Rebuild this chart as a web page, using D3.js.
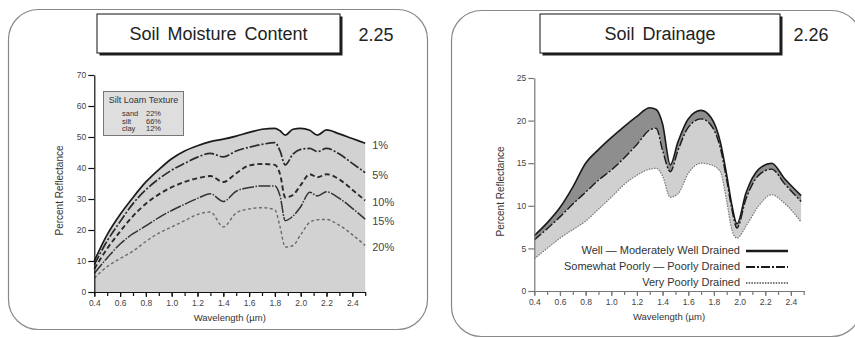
<!DOCTYPE html>
<html>
<head>
<meta charset="utf-8">
<script src="https://cdn.jsdelivr.net/npm/d3@7"></script>
<style>
  body { margin: 0; background: #fff; }
  svg { display: block; font-family: "Liberation Sans", Arial, Helvetica, sans-serif; }
  .tick text { fill: #444; font-size: 8.5px; }
</style>
</head>
<body>
<div id="container"></div>
<script>
// ---- left chart: soil moisture content ----
const moistWave = [0.4, 0.5, 0.6, 0.7, 0.8, 0.9, 1.0, 1.1, 1.2, 1.3, 1.4, 1.5, 1.6, 1.7, 1.8, 1.84, 1.88, 1.94, 2.0, 2.07, 2.13, 2.2, 2.3, 2.4, 2.5];
const moist1  = [10, 18.5, 25, 30.5, 35.5, 39.5, 43, 45.5, 47.2, 48.5, 49.3, 50.3, 51.5, 52.5, 52.8, 52, 50.6, 52.5, 52.8, 52.2, 50.6, 52.3, 51, 49.5, 48];
const moist5  = [8.8, 16.5, 22.7, 28.5, 33, 36.5, 39.3, 41.5, 43.5, 44.7, 43.6, 45.5, 46.7, 47.6, 48.2, 45.5, 41, 44.5, 46, 46.3, 45.3, 46.3, 44.5, 41.5, 38.5];
const moist10 = [7.5, 14, 19.5, 24.5, 28.5, 31.5, 33.8, 35.5, 36.7, 37.4, 35.5, 38.3, 40.8, 41.3, 41, 38, 30.5, 31.3, 34.5, 38, 37, 38, 36.3, 33, 29.5];
const moist15 = [6, 11, 15.5, 18.8, 21.3, 24, 26.3, 28.3, 30.2, 31.7, 29.2, 32.5, 33.7, 34.2, 34.2, 31, 23, 24.5, 27.5, 32.2, 31, 32.3, 30.2, 27, 23.5];
const moist20 = [4.5, 8.2, 10.8, 13.2, 16.3, 19, 21, 23, 25, 25.8, 21, 25.5, 26.8, 27.2, 26.5, 21, 14.5, 15, 18.5, 22.5, 23.3, 23.4, 21.5, 18.5, 15];
const moistLabels = ["1%", "5%", "10%", "15%", "20%"];
const moistTicksY = [0, 10, 20, 30, 40, 50, 60, 70];
const texture = [["sand", "22%"], ["silt", "66%"], ["clay", "12%"]];

// ---- right chart: soil drainage ----
const drainWave = [0.4, 0.5, 0.6, 0.7, 0.8, 0.9, 1.0, 1.1, 1.2, 1.3, 1.35, 1.4, 1.46, 1.52, 1.6, 1.7, 1.78, 1.85, 1.9, 1.94, 1.98, 2.05, 2.15, 2.25, 2.35, 2.48];
const drainWell = [6.5, 8.0, 9.8, 12.2, 15.0, 16.6, 18.0, 19.3, 20.5, 21.5, 21.3, 19.6, 14.8, 17.5, 20.2, 21.2, 20.3, 17.5, 13.6, 10.1, 7.9, 11.5, 14.3, 15.0, 13.2, 11.2];
const drainPoor = [6.0, 7.3, 8.7, 10.2, 11.6, 13.0, 14.2, 15.6, 17.2, 18.9, 19.1, 16.5, 14.0, 16.5, 19.2, 20.2, 19.4, 16.8, 13.0, 9.6, 7.4, 10.8, 13.6, 14.3, 12.6, 10.5];
const drainVeryPoor = [3.8, 5.0, 6.2, 7.2, 8.2, 9.6, 11.0, 12.5, 13.6, 14.3, 14.4, 13.5, 11.0, 11.4, 13.8, 15.0, 14.8, 14.0, 10.5, 7.2, 6.2, 7.6, 10.0, 11.3, 10.3, 8.1];
const drainLabels = ["Well \u2014 Moderately Well Drained", "Somewhat Poorly \u2014 Poorly Drained", "Very Poorly Drained"];
const drainTicksY = [0, 5, 10, 15, 20, 25];

const waveTicks = d3.range(4, 26).map(d => d / 10);
const waveLabelTicks = d3.range(4, 25, 2).map(d => d / 10);

const width = 855;
const height = 338;

const svg = d3.select("#container").append("svg")
  .attr("width", width)
  .attr("height", height);

// panel frames
svg.append("rect")
  .attr("x", 8.5).attr("y", 9.5).attr("width", 419).attr("height", 320)
  .attr("rx", 30).attr("fill", "none").attr("stroke", "#888").attr("stroke-width", 1.2);
svg.append("rect")
  .attr("x", 451.5).attr("y", 10.5).attr("width", 410).attr("height", 326)
  .attr("rx", 30).attr("fill", "none").attr("stroke", "#888").attr("stroke-width", 1.2);

function titleBox(x, w, label, num, numX) {
  svg.append("rect")
    .attr("x", x + 2.5).attr("y", 16.5).attr("width", w).attr("height", 39)
    .attr("fill", "#222");
  svg.append("rect")
    .attr("x", x).attr("y", 14).attr("width", w).attr("height", 39)
    .attr("fill", "#fff").attr("stroke", "#111").attr("stroke-width", 1);
  svg.append("text")
    .attr("x", x + w / 2).attr("y", 34).attr("dy", "0.35em")
    .attr("text-anchor", "middle").attr("font-size", 18).attr("fill", "#222")
    .style("word-spacing", "3px")
    .text(label);
  svg.append("text")
    .attr("x", numX).attr("y", 35).attr("dy", "0.35em")
    .attr("text-anchor", "middle").attr("font-size", 18).attr("fill", "#222")
    .text(num);
}
titleBox(97, 243, "Soil Moisture Content", "2.25", 376);
titleBox(540, 240, "Soil Drainage", "2.26", 811);

function drawAxes(x, y, ticksY, axisColor, xLabel, yLabelX) {
  const [x0] = x.range();
  const [yb] = y.range();
  const gy = svg.append("g")
    .attr("transform", `translate(${x0},0)`)
    .call(d3.axisLeft(y).tickValues(ticksY).tickSize(6).tickSizeOuter(0).tickPadding(2));
  const gxMinor = svg.append("g")
    .attr("transform", `translate(0,${yb})`)
    .call(d3.axisBottom(x).tickValues(waveTicks).tickSize(4).tickSizeOuter(0).tickFormat(""));
  const gx = svg.append("g")
    .attr("transform", `translate(0,${yb})`)
    .call(d3.axisBottom(x).tickValues(waveLabelTicks).tickSize(5).tickSizeOuter(0).tickPadding(3).tickFormat(d3.format(".1f")));
  [gy, gx, gxMinor].forEach(g => {
    g.selectAll(".domain, line").attr("stroke", axisColor).attr("stroke-width", 1.2);
  });
  svg.append("text")
    .attr("x", (x.range()[0] + x.range()[1]) / 2).attr("y", yb + 29)
    .attr("text-anchor", "middle").attr("font-size", 9.5).attr("fill", "#333")
    .text(xLabel);
  svg.append("text")
    .attr("transform", `translate(${yLabelX},${(y.range()[0] + y.range()[1]) / 2 + 7}) rotate(-90)`)
    .attr("text-anchor", "middle").attr("font-size", 10).attr("fill", "#333")
    .text("Percent Reflectance");
}

// ---- left chart ----
const xL = d3.scaleLinear().domain([0.4, 2.5]).range([94.3, 365.2]);
const yL = d3.scaleLinear().domain([0, 70]).range([292, 75]);

const moistSeries = [moist1, moist5, moist10, moist15, moist20];
const moistStyles = [
  { dash: null, color: "#1a1a1a", w: 1.7 },
  { dash: "10,2,2,2", color: "#2a2a2a", w: 1.7 },
  { dash: "5,3", color: "#2a2a2a", w: 1.9 },
  { dash: "12,1.5,1.5,1.5", color: "#333", w: 1.5 },
  { dash: "3,2.5", color: "#6a6a6a", w: 1.4 }
];

const areaL = d3.area()
  .x((d, i) => xL(moistWave[i]))
  .y0(yL(0))
  .y1(d => yL(d))
  .curve(d3.curveMonotoneX);
svg.append("path").datum(moist1).attr("d", areaL).attr("fill", "#d2d2d2");

const lineL = d3.line()
  .x((d, i) => xL(moistWave[i]))
  .y(d => yL(d))
  .curve(d3.curveMonotoneX);

moistSeries.forEach((s, k) => {
  const st = moistStyles[k];
  svg.append("path").datum(s)
    .attr("d", lineL)
    .attr("fill", "none")
    .attr("stroke", st.color)
    .attr("stroke-width", st.w)
    .attr("stroke-dasharray", st.dash);
  svg.append("text")
    .attr("x", xL(2.5) + 7).attr("y", yL(s[s.length - 1]) + 2).attr("dy", "0.35em")
    .attr("font-size", 11).attr("fill", "#444")
    .text(moistLabels[k]);
});

drawAxes(xL, yL, moistTicksY, "#111", "Wavelength (\u00b5m)", 63);

// texture box
svg.append("rect")
  .attr("x", 103.5).attr("y", 91.5).attr("width", 80).attr("height", 44)
  .attr("fill", "#dedede").attr("stroke", "#777").attr("stroke-width", 1);
svg.append("text")
  .attr("x", 143.5).attr("y", 99.5).attr("dy", "0.35em")
  .attr("text-anchor", "middle").attr("font-size", 9).attr("fill", "#333")
  .text("Silt Loam Texture");
texture.forEach(([name, pct], i) => {
  svg.append("text")
    .attr("x", 122).attr("y", 113.5 + i * 7.5).attr("dy", "0.35em")
    .attr("font-size", 7.5).attr("fill", "#333").text(name);
  svg.append("text")
    .attr("x", 146).attr("y", 113.5 + i * 7.5).attr("dy", "0.35em")
    .attr("font-size", 7.5).attr("fill", "#333").text(pct);
});

// ---- right chart ----
const xR = d3.scaleLinear().domain([0.4, 2.5]).range([534.3, 803.7]);
const yR = d3.scaleLinear().domain([0, 25]).range([291, 78]);

const bandDark = d3.area()
  .x((d, i) => xR(drainWave[i]))
  .y0((d, i) => yR(drainPoor[i]))
  .y1(d => yR(d))
  .curve(d3.curveMonotoneX);
const bandLight = d3.area()
  .x((d, i) => xR(drainWave[i]))
  .y0((d, i) => yR(drainVeryPoor[i]))
  .y1(d => yR(d))
  .curve(d3.curveMonotoneX);

svg.append("path").datum(drainPoor).attr("d", bandLight).attr("fill", "#d0d0d0");
svg.append("path").datum(drainWell).attr("d", bandDark).attr("fill", "#8e8e8e");

const lineR = d3.line()
  .x((d, i) => xR(drainWave[i]))
  .y(d => yR(d))
  .curve(d3.curveMonotoneX);

const drainSeries = [drainWell, drainPoor, drainVeryPoor];
const drainStyles = [
  { dash: null, color: "#1a1a1a", w: 1.6, lw: 2.6 },
  { dash: "9,2,2,2", color: "#1a1a1a", w: 1.4, lw: 2.2 },
  { dash: "1.5,1.2", color: "#777", w: 1.2, lw: 2 }
];

drainSeries.forEach((s, k) => {
  const st = drainStyles[k];
  svg.append("path").datum(s)
    .attr("d", lineR)
    .attr("fill", "none")
    .attr("stroke", st.color)
    .attr("stroke-width", st.w)
    .attr("stroke-dasharray", st.dash);
});

drawAxes(xR, yR, drainTicksY, "#777", "Wavelength (\u00b5m)", 504);

// legend
drainLabels.forEach((label, k) => {
  const st = drainStyles[k];
  const ly = 250 + k * 16;
  svg.append("text")
    .attr("x", 740).attr("y", ly).attr("dy", "0.35em")
    .attr("text-anchor", "end").attr("font-size", 11).attr("fill", "#333")
    .text(label);
  svg.append("line")
    .attr("x1", 746).attr("x2", 788).attr("y1", ly + 1).attr("y2", ly + 1)
    .attr("stroke", st.color)
    .attr("stroke-width", st.lw)
    .attr("stroke-dasharray", st.dash);
});
</script>
</body>
</html>
